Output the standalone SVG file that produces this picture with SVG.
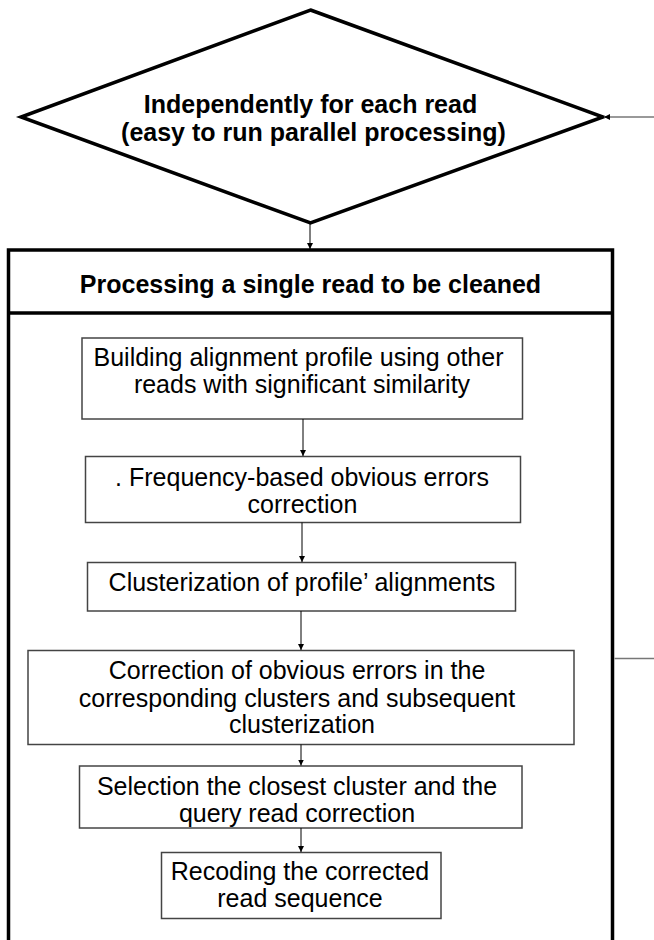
<svg xmlns="http://www.w3.org/2000/svg" width="654" height="940" viewBox="0 0 654 940">
<defs>
<marker id="ah" viewBox="0 0 10 10" refX="10" refY="5" markerWidth="6" markerHeight="6" orient="auto" markerUnits="userSpaceOnUse">
<path d="M0,0 L10,5 L0,10 Z" fill="#000"/>
</marker>
<style>
.bold{font-family:"Liberation Sans",Arial,Helvetica,sans-serif;font-weight:bold;font-size:25px;fill:#000;text-anchor:middle}
.reg{font-family:"Liberation Sans",Arial,Helvetica,sans-serif;font-size:25px;fill:#000;text-anchor:middle}
.box{fill:#fff;stroke:#444;stroke-width:1.5}
.thick{fill:#fff;stroke:#000;stroke-width:3.5}
.conn{stroke:#000;stroke-width:1;fill:none}
.gray{stroke:#777;stroke-width:1.3;fill:none}
</style>
</defs>
<rect width="654" height="940" fill="#fff"/>
<g id="container">
<rect class="thick" x="8.5" y="250" width="604" height="710"/>
<line x1="8.5" y1="313" x2="612.5" y2="313" stroke="#000" stroke-width="3.5"/>
<text class="bold" x="310.5" y="293">Processing a single read to be cleaned</text>
</g>
<g id="decision">
<polygon class="thick" points="310.5,10 603,117 310.5,223 21,117"/>
<text class="bold" x="310.5" y="113">Independently for each read</text>
<text class="bold" x="313.5" y="141">(easy to run parallel processing)</text>
</g>
<g id="step1">
<rect class="box" x="82" y="338" width="440.5" height="81"/>
<text class="reg" x="298.5" y="366">Building alignment profile using other</text>
<text class="reg" x="302" y="393">reads with significant similarity</text>
</g>
<g id="step2">
<rect class="box" x="85.5" y="456.5" width="435" height="66"/>
<text class="reg" x="302" y="485.5">. Frequency-based obvious errors</text>
<text class="reg" x="302.5" y="513">correction</text>
</g>
<g id="step3">
<rect class="box" x="87.5" y="562.5" width="428" height="48.5"/>
<text class="reg" x="302" y="591">Clusterization of profile’ alignments</text>
</g>
<g id="step4">
<rect class="box" x="28" y="650.5" width="546" height="94"/>
<text class="reg" x="297" y="679">Correction of obvious errors in the</text>
<text class="reg" x="297" y="706.5">corresponding clusters and subsequent</text>
<text class="reg" x="302" y="733">clusterization</text>
</g>
<g id="step5">
<rect class="box" x="79.5" y="766" width="442.5" height="62"/>
<text class="reg" x="297" y="795">Selection the closest cluster and the</text>
<text class="reg" x="297" y="822">query read correction</text>
</g>
<g id="step6">
<rect class="box" x="161.5" y="852.5" width="279.5" height="66"/>
<text class="reg" x="300" y="880">Recoding the corrected</text>
<text class="reg" x="300" y="907">read sequence</text>
</g>
<g id="connectors">
<line class="gray" x1="654" y1="117" x2="604" y2="117" marker-end="url(#ah)"/>
<line class="conn" x1="310" y1="224" x2="310" y2="249" marker-end="url(#ah)"/>
<line class="conn" x1="303" y1="419" x2="303" y2="456" marker-end="url(#ah)"/>
<line class="conn" x1="302" y1="522.5" x2="302" y2="562" marker-end="url(#ah)"/>
<line class="conn" x1="301" y1="611" x2="301" y2="650" marker-end="url(#ah)"/>
<line class="conn" x1="301" y1="744.5" x2="301" y2="765.5" marker-end="url(#ah)"/>
<line class="conn" x1="301" y1="828" x2="301" y2="852" marker-end="url(#ah)"/>
<line class="gray" x1="614.5" y1="658.5" x2="654" y2="658.5"/>
</g>
</svg>
